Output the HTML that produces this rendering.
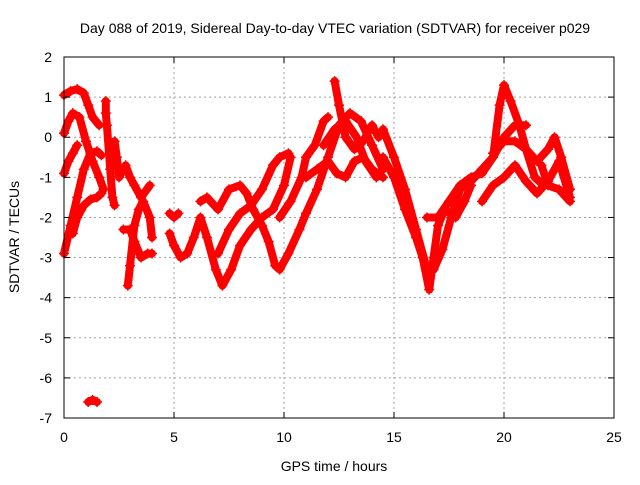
<!DOCTYPE html>
<html><head><meta charset="utf-8"><style>
body{margin:0;background:#fff}
svg text{font-family:"Liberation Sans",sans-serif;font-size:14px;fill:#000}
</style></head><body>
<svg id="chart" width="640" height="480">
<rect width="640" height="480" fill="#fff"/>
<text x="335" y="33" text-anchor="middle">Day 088 of 2019, Sidereal Day-to-day VTEC variation (SDTVAR) for receiver p029</text>
<text x="334" y="471" text-anchor="middle">GPS time / hours</text>
<text transform="translate(19,237) rotate(-90)" text-anchor="middle">SDTVAR / TECUs</text>
<g id="grid"></g><g id="marks"></g><g id="axes"></g>
</svg>
<script>
const xTicks=[0,5,10,15,20,25];
const yTicks=[2,1,0,-1,-2,-3,-4,-5,-6,-7];
const track1=[[0,-2.9],[0.3,-2.2],[0.6,-1.5],[0.9,-0.8],[1.2,-0.4],[1.5,-0.35],[1.7,-0.45]];
const track2=[[0.4,-2.4],[0.6,-2.0],[0.9,-1.7],[1.2,-1.55],[1.5,-1.5],[1.7,-1.4]];
const track3=[[0,1.05],[0.3,1.15],[0.6,1.2],[0.9,1.1],[1.1,0.8],[1.3,0.5],[1.6,0.3]];
const track4=[[0,0.1],[0.2,0.4],[0.4,0.6],[0.7,0.5],[1.0,-0.1],[1.3,-0.6],[1.6,-1.0],[1.8,-1.3]];
const track5=[[0,-0.9],[0.2,-0.6],[0.4,-0.4],[0.6,-0.2]];
const track6=[[1.1,-6.6],[1.3,-6.55],[1.5,-6.6]];
const track7=[[1.9,0.9],[1.9,0.6],[1.95,0.3],[2.1,-0.8],[2.2,-1.5],[2.3,-1.7]];
const track8=[[2.3,-0.1],[2.4,-0.5],[2.5,-1.0],[2.8,-0.7],[3.0,-1.0],[3.2,-1.2],[3.5,-1.5],[3.9,-1.2]];
const track9=[[2.7,-2.3],[3.0,-2.3],[3.2,-2.6],[3.5,-3.0],[3.8,-2.9],[4.0,-2.9]];
const track10=[[2.9,-3.7],[3.0,-3.2],[3.2,-2.2],[3.4,-1.8],[3.6,-1.6],[3.9,-2.0],[4.0,-2.5]];
const track11=[[4.8,-1.9],[5.0,-2.0],[5.2,-1.9]];
const track12=[[4.8,-2.4],[5.0,-2.7],[5.3,-3.0],[5.6,-2.9],[5.9,-2.5],[6.2,-2.0],[6.5,-2.5],[6.9,-3.3],[7.2,-3.7],[7.6,-3.3],[8.0,-2.7],[8.5,-2.3],[9.0,-2.0],[9.5,-1.8],[10.0,-1.2],[10.3,-0.5]];
const track13=[[6.2,-1.6],[6.5,-1.5],[7.0,-1.8],[7.5,-1.3],[8.0,-1.2],[8.3,-1.4],[8.6,-1.8],[9.0,-2.2],[9.3,-2.6],[9.6,-3.2],[9.8,-3.3],[10.2,-2.9],[10.7,-2.3],[11.0,-1.9],[11.5,-1.3],[12.0,-0.5],[12.5,0.3],[13.0,0.6],[13.5,0.4],[14.0,-0.2],[14.5,-0.8]];
const track14=[[7.0,-2.9],[7.5,-2.3],[8.0,-1.9],[8.5,-1.7],[9.0,-1.3],[9.5,-0.7],[9.8,-0.5],[10.2,-0.4]];
const track15=[[9.8,-2.0],[10.3,-1.6],[10.8,-1.0],[11.0,-0.5],[11.4,-0.2],[11.8,0.4],[12.0,0.5]];
const track16=[[12.3,1.4],[12.5,0.8],[12.8,0.0],[13.2,-0.3],[13.6,-0.1],[14.0,0.3],[14.3,0.0]];
const track17=[[11.0,-1.0],[11.5,-0.8],[12.0,-0.6],[12.4,-0.9],[12.8,-1.0],[13.2,-0.6],[13.6,-0.5],[14.0,-0.8],[14.5,-1.0]];
const track18=[[11.8,-0.2],[12.3,0.2],[12.8,0.4],[13.3,0.0],[13.7,-0.6],[14.2,-1.0]];
const track19=[[14.5,0.2],[15.0,-0.5],[15.5,-1.3],[16.0,-2.3],[16.5,-3.3],[16.8,-3.3],[17.2,-2.8],[17.6,-2.0],[18.0,-1.3],[18.5,-1.1],[19.0,-0.8],[19.5,-0.5],[20.0,0.0],[20.5,0.3],[21.0,0.3]];
const track20=[[14.5,-0.5],[15.0,-1.0],[15.5,-1.8],[16.0,-2.5],[16.3,-3.0],[16.6,-3.8],[16.8,-3.0],[17.0,-2.2],[17.3,-1.8],[17.8,-2.0],[18.2,-1.6],[18.5,-1.2]];
const track21=[[16.5,-2.0],[17.0,-2.0],[17.5,-1.6],[18.0,-1.2],[18.5,-1.0],[19.0,-0.9],[19.5,-0.5],[19.8,0.8],[20.0,1.3],[20.3,0.9],[20.7,0.3],[21.0,-0.3],[21.4,-1.0],[21.8,-1.2]];
const track22=[[19.0,-1.6],[19.5,-1.2],[20.0,-1.0],[20.5,-0.7],[21.0,-1.1],[21.5,-1.4],[22.0,-1.1],[22.5,-0.6],[23.0,-1.5]];
const track23=[[19.5,-0.4],[20.0,-0.1],[20.5,-0.1],[21.0,-0.3],[21.5,-0.6],[22.0,-0.3],[22.3,0.0],[22.6,-0.5],[23.0,-1.3]];
const track24=[[21.7,-0.7],[22.0,-1.2],[22.5,-1.3],[23.0,-1.6]];
const tracks=[track1,track2,track3,track4,track5,track6,track7,track8,track9,track10,track11,track12,track13,track14,track15,track16,track17,track18,track19,track20,track21,track22,track23,track24];
const X0=64,X1=614,Y0=57,Y1=418;
const sx=h=>X0+(h-0)/(25-0)*(X1-X0);
const sy=v=>Y0+(2-v)/(2-(-7))*(Y1-Y0);
const NS='http://www.w3.org/2000/svg';
const mk=(t,a,p)=>{const e=document.createElementNS(NS,t);for(const k in a)e.setAttribute(k,a[k]);p.appendChild(e);return e;};
const grid=document.getElementById('grid'),axes=document.getElementById('axes'),marks=document.getElementById('marks');
xTicks.forEach(t=>{const x=sx(t);
 if(t>0&&t<25){const g=mk('line',{x1:x,x2:x,y1:Y0,y2:Y1,stroke:'#a0a0a0','stroke-dasharray':'2,3'},grid);
 
 }
 mk('line',{x1:x,x2:x,y1:Y1,y2:Y1-6,stroke:'#000'},axes);mk('line',{x1:x,x2:x,y1:Y0,y2:Y0+6,stroke:'#000'},axes);
 const l=mk('text',{x:x,y:Y1+24,'text-anchor':'middle'},axes);l.textContent=t;
 
 });
yTicks.forEach(t=>{const y=sy(t);
 if(t<2&&t>-7){const g=mk('line',{x1:X0,x2:X1,y1:y,y2:y,stroke:'#a0a0a0','stroke-dasharray':'2,3'},grid);
 
 }
 mk('line',{x1:X0,x2:X0+6,y1:y,y2:y,stroke:'#000'},axes);mk('line',{x1:X1,x2:X1-6,y1:y,y2:y,stroke:'#000'},axes);
 const l=mk('text',{x:X0-12,y:y+5,'text-anchor':'end'},axes);l.textContent=t;
 
 });
const frame=mk('rect',{x:X0,y:Y0,width:X1-X0,height:Y1-Y0,fill:'none',stroke:'#000'},axes);


tracks.forEach((tr,i)=>{
 const g=mk('g',{},marks);
 
 
 mk('polyline',{points:tr.map(p=>sx(p[0])+','+sy(p[1])).join(' '),fill:'none',stroke:'#ff0000','stroke-width':8,'stroke-linejoin':'round','stroke-linecap':'round'},g);
 tr.forEach(p=>{const x=sx(p[0]),y=sy(p[1]);
  mk('path',{d:`M${x-5} ${y}H${x+5}M${x} ${y-5}V${y+5}`,stroke:'#ff0000','stroke-width':1.5},g);});
});
</script>
</body></html>
